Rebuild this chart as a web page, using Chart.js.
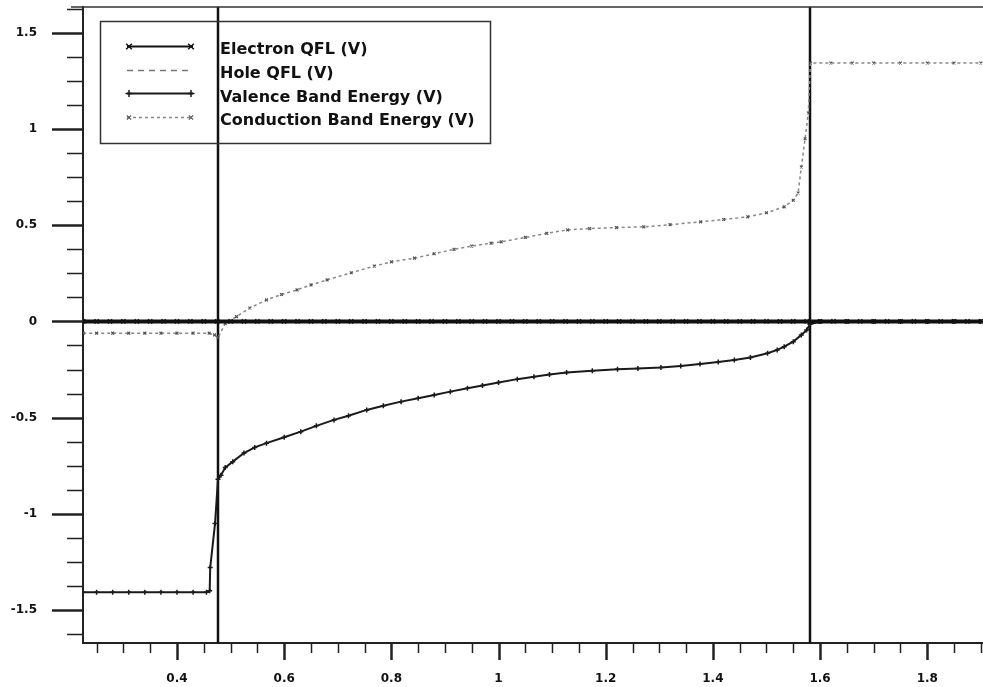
<!DOCTYPE html>
<html>
<head>
<meta charset="utf-8">
<script src="https://cdn.jsdelivr.net/npm/chart.js@4.4.1/dist/chart.umd.min.js"></script>
<style>
  html, body { margin: 0; padding: 0; background: #fff; }
  #wrap { width: 983px; height: 687px; }
</style>
</head>
<body>
<div id="wrap"><canvas id="graph" width="983" height="687"></canvas></div>
<script>
// position (x) and energies in V
const qflX = [0.225, 0.25, 0.275, 0.3, 0.325, 0.35, 0.375, 0.4, 0.425, 0.45, 0.475, 0.5, 0.525, 0.55, 0.575, 0.6, 0.625,
    0.65, 0.675, 0.7, 0.725, 0.75, 0.775, 0.8, 0.825, 0.85, 0.875, 0.9, 0.925, 0.95, 0.975, 1.0, 1.025, 1.05, 1.075,
    1.1, 1.125, 1.15, 1.175, 1.2, 1.225, 1.25, 1.275, 1.3, 1.325, 1.35, 1.375, 1.4, 1.425, 1.45, 1.475, 1.5, 1.525,
    1.55, 1.575, 1.6, 1.625, 1.65, 1.675, 1.7, 1.725, 1.75, 1.775, 1.8, 1.825, 1.85, 1.875, 1.9]
const electronQfl = [0, 0, 0, 0, 0, 0, 0, 0, 0, 0, 0, 0, 0, 0, 0, 0, 0, 0, 0, 0, 0, 0, 0, 0, 0, 0, 0, 0, 0, 0, 0, 0, 0, 0,
    0, 0, 0, 0, 0, 0, 0, 0, 0, 0, 0, 0, 0, 0, 0, 0, 0, 0, 0, 0, 0, 0, 0, 0, 0, 0, 0, 0, 0, 0, 0, 0, 0, 0]
const holeQfl = [0, 0, 0, 0, 0, 0, 0, 0, 0, 0, 0, 0, 0, 0, 0, 0, 0, 0, 0, 0, 0, 0, 0, 0, 0, 0, 0, 0, 0, 0, 0, 0, 0, 0,
    0, 0, 0, 0, 0, 0, 0, 0, 0, 0, 0, 0, 0, 0, 0, 0, 0, 0, 0, 0, 0, 0, 0, 0, 0, 0, 0, 0, 0, 0, 0, 0, 0, 0]

const valenceX = [0.225, 0.25, 0.28, 0.31, 0.34, 0.37, 0.4, 0.43, 0.455, 0.461, 0.462, 0.471, 0.4765, 0.482, 0.49,
    0.504, 0.525, 0.545, 0.567, 0.6, 0.631, 0.66, 0.693, 0.72, 0.754, 0.785, 0.818, 0.85, 0.88, 0.91, 0.942, 0.97,
    1.0, 1.035, 1.066, 1.095, 1.127, 1.175, 1.222, 1.26, 1.303, 1.34, 1.376, 1.41, 1.44, 1.47, 1.502, 1.52, 1.533,
    1.55, 1.565, 1.575, 1.581, 1.6, 1.65, 1.7, 1.75, 1.8, 1.85, 1.9]
const valenceBand = [-1.408, -1.408, -1.408, -1.408, -1.408, -1.408, -1.408, -1.408, -1.408, -1.4, -1.28, -1.05, -0.82,
    -0.8, -0.76, -0.729, -0.684, -0.655, -0.633, -0.602, -0.573, -0.543, -0.512, -0.49, -0.46, -0.438, -0.417, -0.399,
    -0.382, -0.365, -0.347, -0.333, -0.318, -0.3, -0.287, -0.276, -0.266, -0.257, -0.249, -0.245, -0.24, -0.232,
    -0.221, -0.211, -0.2, -0.187, -0.165, -0.148, -0.131, -0.105, -0.07, -0.045, -0.015, 0, 0, 0, 0, 0, 0, 0]

const conductionX = [0.225, 0.25, 0.28, 0.31, 0.34, 0.37, 0.4, 0.43, 0.46, 0.47, 0.4765, 0.49, 0.511, 0.536, 0.567,
    0.595, 0.624, 0.65, 0.68, 0.725, 0.768, 0.8, 0.843, 0.88, 0.917, 0.95, 0.986, 1.005, 1.05, 1.09, 1.129, 1.17,
    1.22, 1.271, 1.32, 1.377, 1.42, 1.465, 1.5, 1.533, 1.55, 1.559, 1.565, 1.572, 1.578, 1.582, 1.62, 1.66, 1.7,
    1.75, 1.8, 1.85, 1.9]
const conductionBand = [-0.061, -0.061, -0.061, -0.061, -0.061, -0.061, -0.061, -0.061, -0.061, -0.07, -0.086, -0.01,
    0.025, 0.07, 0.112, 0.14, 0.164, 0.19, 0.216, 0.253, 0.288, 0.31, 0.329, 0.352, 0.375, 0.392, 0.407, 0.414,
    0.437, 0.458, 0.476, 0.483, 0.488, 0.492, 0.503, 0.518, 0.53, 0.544, 0.565, 0.596, 0.63, 0.668, 0.803, 0.95,
    1.084, 1.344, 1.344, 1.344, 1.344, 1.344, 1.344, 1.344, 1.344]

const interfaces = [0.4765, 1.581]
const xTicks = [0.4, 0.6, 0.8, 1, 1.2, 1.4, 1.6, 1.8]
const yTicks = [-1.5, -1, -0.5, 0, 0.5, 1, 1.5]
const seriesNames = ['Electron QFL (V)', 'Hole QFL (V)', 'Valence Band Energy (V)', 'Conduction Band Energy (V)']

function pairs(xs, ys) {
    return xs.map((x, i) => ({ x: x, y: ys[i] }))
}

const tickFont = { family: 'DejaVu Sans', size: 12, weight: 'bold' }

// boundary lines, top border and the long/short tick marks
const frame = {
    id: 'frame',
    beforeDatasetsDraw(chart) {
        const ctx = chart.ctx, a = chart.chartArea
        const xs = chart.scales.x, ys = chart.scales.y
        ctx.save()
        ctx.strokeStyle = '#111'
        ctx.lineWidth = 2.5
        interfaces.forEach(v => {
            const px = Math.round(xs.getPixelForValue(v))
            ctx.beginPath(); ctx.moveTo(px, a.top); ctx.lineTo(px, a.bottom); ctx.stroke()
        })
        ctx.lineWidth = 1.5
        ctx.strokeStyle = '#333'
        ctx.beginPath(); ctx.moveTo(a.left - 12, a.top); ctx.lineTo(a.right, a.top); ctx.stroke()

        ctx.strokeStyle = '#222'
        for (let k = Math.ceil(ys.min / 0.125); k <= Math.floor(ys.max / 0.125); k++) {
            const v = k * 0.125
            const major = k % 4 === 0
            const py = Math.round(ys.getPixelForValue(v)) + 0.5
            ctx.lineWidth = major ? 2.5 : 1.5
            ctx.beginPath(); ctx.moveTo(a.left - (major ? 31 : 16), py); ctx.lineTo(a.left, py); ctx.stroke()
        }
        for (let k = Math.ceil(xs.min / 0.05); k <= Math.floor(xs.max / 0.05); k++) {
            const v = k * 0.05
            const major = k % 4 === 0
            const px = Math.round(xs.getPixelForValue(v)) + 0.5
            ctx.lineWidth = major ? 2.5 : 1.5
            ctx.beginPath(); ctx.moveTo(px, a.bottom); ctx.lineTo(px, a.bottom + (major ? 17 : 10)); ctx.stroke()
        }
        ctx.restore()
    }
}

// legend box drawn inside the plot, top left
const boxLegend = {
    id: 'boxLegend',
    afterDatasetsDraw(chart) {
        const ctx = chart.ctx
        const sets = chart.data.datasets
        ctx.save()
        ctx.strokeStyle = '#333'
        ctx.lineWidth = 1.5
        ctx.strokeRect(100.5, 21.5, 390, 122)
        ctx.font = 'bold 16px "DejaVu Sans"'
        ctx.textBaseline = 'middle'
        seriesNames.forEach((name, i) => {
            const ds = sets[i]
            const y = 50 + i * 23.7
            const ly = Math.round(y - 4) + 0.5
            ctx.strokeStyle = ds.borderColor
            ctx.lineWidth = Math.min(ds.borderWidth, 2)
            ctx.setLineDash(ds.borderDash || [])
            ctx.beginPath(); ctx.moveTo(127, ly); ctx.lineTo(193, ly); ctx.stroke()
            ctx.setLineDash([])
            if (ds.pointRadius > 0) {
                ctx.strokeStyle = ds.pointBorderColor
                ctx.lineWidth = ds.pointBorderWidth
                const opts = { pointStyle: ds.pointStyle, radius: ds.pointRadius + 1, rotation: 0, borderWidth: ds.pointBorderWidth }
                Chart.helpers.drawPoint(ctx, opts, 129, ly)
                Chart.helpers.drawPoint(ctx, opts, 191, ly)
            }
            ctx.fillStyle = '#111'
            ctx.fillText(name, 220, y)
        })
        ctx.restore()
    }
}

const ctx = document.getElementById('graph').getContext('2d')
const chart = new Chart(ctx, {
    type: 'scatter',
    data: {
        datasets: [{
            label: seriesNames[0],
            data: pairs(qflX, electronQfl),
            showLine: true,
            borderColor: '#111',
            borderWidth: 4,
            pointStyle: 'crossRot',
            pointRadius: 3,
            pointBorderColor: '#111',
            pointBorderWidth: 1.5
        }, {
            label: seriesNames[1],
            data: pairs(qflX, holeQfl),
            showLine: true,
            borderColor: '#777',
            borderWidth: 1.5,
            borderDash: [6, 5],
            pointRadius: 0,
            pointBorderColor: '#777',
            pointBorderWidth: 1
        }, {
            label: seriesNames[2],
            data: pairs(valenceX, valenceBand),
            showLine: true,
            borderColor: '#1a1a1a',
            borderWidth: 2,
            pointStyle: 'cross',
            pointRadius: 2.5,
            pointBorderColor: '#1a1a1a',
            pointBorderWidth: 1.5
        }, {
            label: seriesNames[3],
            data: pairs(conductionX, conductionBand),
            showLine: true,
            borderColor: '#888',
            borderWidth: 1.5,
            borderDash: [3, 3],
            pointStyle: 'crossRot',
            pointRadius: 2,
            pointBorderColor: '#555',
            pointBorderWidth: 1.2
        }]
    },
    options: {
        responsive: false,
        animation: false,
        devicePixelRatio: 1,
        layout: { autoPadding: false, padding: { top: 7, right: 0, left: 0, bottom: 0 } },
        plugins: { legend: { display: false }, tooltip: { enabled: false } },
        scales: {
            x: {
                type: 'linear',
                min: 0.2246,
                max: 1.904,
                grid: { display: false, drawTicks: true, tickLength: 25 },
                border: { display: true, color: '#222', width: 2 },
                afterBuildTicks: s => { s.ticks = xTicks.map(v => ({ value: v })) },
                afterFit: s => { s.height = 44; s.paddingLeft = 0; s.paddingRight = 0 },
                ticks: {
                    font: tickFont,
                    color: '#111',
                    padding: 4,
                    maxRotation: 0,
                    autoSkip: false,
                    callback: v => String(Math.round(v * 10) / 10)
                }
            },
            y: {
                type: 'linear',
                min: -1.672,
                max: 1.635,
                grid: { display: false, drawTicks: true, tickLength: 40 },
                border: { display: true, color: '#222', width: 2 },
                afterBuildTicks: s => { s.ticks = yTicks.map(v => ({ value: v })) },
                afterFit: s => { s.width = 83; s.paddingTop = 0; s.paddingBottom = 0 },
                ticks: {
                    font: tickFont,
                    color: '#111',
                    padding: 6,
                    autoSkip: false,
                    callback: v => String(Math.round(v * 10) / 10)
                }
            }
        }
    },
    plugins: [frame, boxLegend]
})
</script>
</body>
</html>
